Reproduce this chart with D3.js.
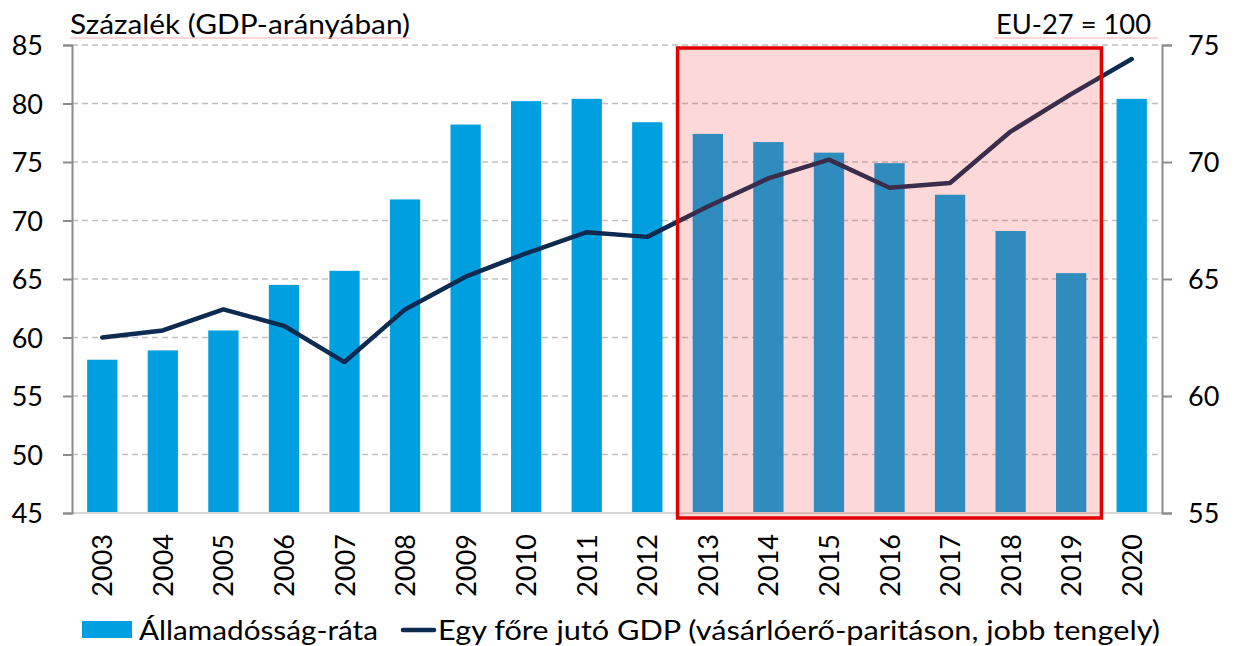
<!DOCTYPE html>
<html><head><meta charset="utf-8">
<script src="https://cdn.jsdelivr.net/npm/d3@7"></script>
<style>body{margin:0;background:#fff}text{font-family:Lato,"Open Sans",sans-serif}</style>
</head><body><svg id="c" width="1234" height="646"></svg>
<script>
const years=["2003","2004","2005","2006","2007","2008","2009","2010","2011","2012","2013","2014","2015","2016","2017","2018","2019","2020"];
const debt=[58.1,58.9,60.6,64.5,65.7,71.8,78.2,80.2,80.4,78.4,77.4,76.7,75.8,74.9,72.2,69.1,65.5,80.4];
const gdp=[62.5,62.8,63.7,63.0,61.45,63.7,65.1,66.1,67.0,66.8,68.1,69.3,70.1,68.9,69.1,71.3,72.9,74.4];
const leftTicks=[45,50,55,60,65,70,75,80,85];
const rightTicks=[55,60,65,70,75];
const highlight=["2013","2019"];
const title="Százalék (GDP-arányában)", unit="EU-27 = 100";
const legendBar="Államadósság-ráta", legendLine="Egy főre jutó GDP (vásárlóerő-paritáson, jobb tengely)";

const FS=27;
const svg=d3.select("#c");
const L=72,R=1162,T=45,B=513;
const x=d3.scaleBand().domain(years).range([L,R]).paddingInner(0.5).paddingOuter(0.25);
const yL=d3.scaleLinear().domain([45,85]).range([B,T]);
const yR=d3.scaleLinear().domain([55,75]).range([B,T]);

svg.append("g").selectAll("line").data(leftTicks.filter(d=>d>45)).join("line")
 .attr("x1",L).attr("x2",R).attr("y1",d=>yL(d)).attr("y2",d=>yL(d))
 .attr("stroke","#c0c0c0").attr("stroke-width",1.5).attr("stroke-dasharray","6,4");
svg.append("g").selectAll("rect").data(years).join("rect")
 .attr("x",d=>x(d)).attr("width",x.bandwidth())
 .attr("y",(d,i)=>yL(debt[i])).attr("height",(d,i)=>B-yL(debt[i]))
 .attr("fill","#009FE0");
svg.append("line").attr("x1",L).attr("x2",R).attr("y1",B).attr("y2",B).attr("stroke","#d9d9d9").attr("stroke-width",2);
svg.append("path").datum(gdp)
 .attr("d",d3.line().x((d,i)=>x(years[i])+x.bandwidth()/2).y(d=>yR(d)))
 .attr("fill","none").attr("stroke","#0D2A50").attr("stroke-width",4.5).attr("stroke-linejoin","round").attr("stroke-linecap","round");
const hx0=x(highlight[0])-x.bandwidth()/2, hx1=x(highlight[1])+x.bandwidth()*1.5;
svg.append("rect").attr("x",hx0).attr("y",48).attr("width",hx1-hx0).attr("height",518-48)
 .attr("fill","rgba(240,60,60,0.2)").attr("stroke","#E00000").attr("stroke-width",3.5);
const ax=svg.append("g").attr("transform",`translate(${L},0)`).call(d3.axisLeft(yL).tickValues(leftTicks).tickSize(9).tickPadding(8));
const ar=svg.append("g").attr("transform",`translate(${R},0)`).call(d3.axisRight(yR).tickValues(rightTicks).tickSize(10).tickPadding(16));
[ax,ar].forEach(a=>{a.select(".domain").attr("stroke","#8c8c8c").attr("stroke-width",2);
 a.selectAll(".tick line").attr("stroke","#8c8c8c").attr("stroke-width",2);
 a.selectAll("text").attr("font-size",FS).attr("fill","#000").attr("dy","0.36em");});
ax.selectAll("text").attr("x",-29);
svg.append("g").selectAll("text").data(years).join("text")
 .attr("transform",d=>`translate(${x(d)+x.bandwidth()/2+10},534) rotate(-90)`)
 .attr("text-anchor","end").attr("font-size",FS).attr("fill","#000").text(d=>d);
svg.append("text").attr("x",70).attr("y",34).attr("font-size",FS).attr("fill","#000")
 .attr("textLength",340).attr("lengthAdjust","spacingAndGlyphs").text(title);
svg.append("line").attr("x1",70).attr("x2",410).attr("y1",38).attr("y2",38).attr("stroke","#f4b0b0").attr("stroke-width",1);
svg.append("text").attr("x",996).attr("y",34).attr("font-size",FS).attr("fill","#000")
 .attr("textLength",155).attr("lengthAdjust","spacingAndGlyphs").text(unit);
svg.append("line").attr("x1",994).attr("x2",1158).attr("y1",38).attr("y2",38).attr("stroke","#f4b0b0").attr("stroke-width",1);
svg.append("rect").attr("x",82).attr("y",621).attr("width",50).attr("height",17).attr("fill","#009FE0");
svg.append("text").attr("x",139).attr("y",640).attr("font-size",FS).attr("fill","#000")
 .attr("textLength",239).attr("lengthAdjust","spacingAndGlyphs").text(legendBar);
svg.append("line").attr("x1",403).attr("x2",434).attr("y1",630).attr("y2",630).attr("stroke","#0D2A50").attr("stroke-width",4.5).attr("stroke-linecap","round");
svg.append("text").attr("x",438).attr("y",640).attr("font-size",FS).attr("fill","#000")
 .attr("textLength",722).attr("lengthAdjust","spacingAndGlyphs").text(legendLine);
</script></body></html>
